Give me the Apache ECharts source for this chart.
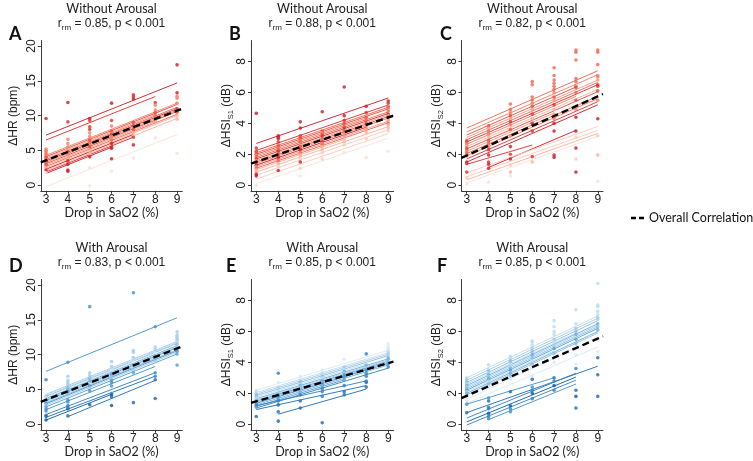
<!DOCTYPE html>
<html><head><meta charset="utf-8">
<script src="https://cdn.jsdelivr.net/npm/echarts@6/dist/echarts.min.js"></script>
<style>html,body{margin:0;padding:0;background:#fff}#c{width:753px;height:461px}</style>
</head><body><div id="c"></div>
<script>
// ---------------- DATA ----------------
const xTicks = [3, 4, 5, 6, 7, 8, 9];
const hrTicks = [0, 5, 10, 15, 20];
const hsiTicks = [0, 2, 4, 6, 8];
const rowTitles = ['Without Arousal', 'With Arousal'];
const letters = ['A', 'B', 'C', 'D', 'E', 'F'];
const rValues = ['0.85', '0.88', '0.82', '0.83', '0.85', '0.85'];
const pText = 'p < 0.001';
const xName = 'Drop in SaO2 (%)';
const legendText = 'Overall Correlation';

// subject regression lines: [xStart, yStart, xEnd, yEnd]
const aLines = [[3,7.2,9,14.7],[3,6.5,8,12.75],[3,4.3,9,11.8],[3,4.1,9,11.6],[3,3.9,8,10.15],[3,3.7,9,11.2],[3,3.5,9,11.0],[3,3.3,9,10.8],[3,3.1,9,10.6],[3,2.9,8,9.15],[3,2.7,9,10.2],[3,2.5,9,10.0],[3,2.3,7,7.3],[3,2.1,9,9.6],[3,1.9,7,6.9],[3,1.7,6,5.45],[3,-0.2,9,7.3]];
const bLines = [[3,2.7,9,5.64],[3,2.25,9,5.19],[3,2.1,9,5.04],[3,2.0,9,4.94],[3,1.9,8,4.35],[3,1.8,9,4.74],[3,1.7,9,4.64],[3,1.6,9,4.54],[3,1.5,9,4.44],[3,1.4,9,4.34],[3,1.3,8,3.75],[3,1.2,9,4.14],[3,1.1,9,4.04],[3,1.0,7,2.96],[3,0.85,9,3.79],[3,0.65,9,3.59],[3,0.4,9,3.34],[3,0.1,9,3.04]];
const cLines = [[3,3.7,9,7.4],[3,3.45,9,7.15],[3,3.25,8,6.35],[3,3.1,9,6.8],[3,2.95,9,6.65],[3,2.8,9,6.5],[3,2.65,8,5.75],[3,2.5,9,6.2],[3,2.35,9,6.05],[3,2.2,7,4.68],[3,2.05,9,5.75],[3,1.9,9,5.6],[3,1.7,9,5.4],[3,1.5,9,5.2],[3,1.35,6,2.6],[4,1.15,8,3.55],[3,0.8,9,3.8],[3,0.55,9,3.55],[3,0.35,9,3.35],[3,0.15,9,3.15]];
const dLines = [[3,7.6,9,15.3],[3,4.3,9,11.9],[3,4.15,9,11.75],[3,4.0,9,11.6],[3,3.85,8,10.2],[3,3.7,9,11.3],[3,3.55,9,11.15],[3,3.4,9,11.0],[3,3.25,8,9.6],[3,3.1,9,10.7],[3,2.95,9,10.55],[3,2.75,9,10.35],[3,2.5,9,10.1],[3,2.1,8,8.3],[3,1.4,8,7.4],[3,1.0,8,6.9],[4,1.1,8,6.3],[3,0.6,6,4.3]];
const eLines = [[3,2.2,9,4.78],[3,2.05,9,4.63],[3,1.95,9,4.53],[3,1.85,9,4.43],[3,1.75,8,3.9],[3,1.65,9,4.23],[3,1.58,9,4.16],[3,1.5,9,4.08],[3,1.42,9,4.0],[3,1.35,9,3.93],[3,1.25,9,3.83],[3,1.15,7,2.87],[3,1.05,9,3.63],[3,1.2,8,2.8],[3,0.95,8,2.5],[4,0.65,8,2.27]];
const fLines = [[3,3.0,9,7.0],[3,2.85,9,6.85],[3,2.7,9,6.7],[3,2.6,8,5.9],[3,2.5,9,6.5],[3,2.4,9,6.4],[3,2.3,9,6.3],[3,2.2,9,6.2],[3,2.1,7,4.75],[3,2.0,9,6.0],[3,1.9,9,5.9],[3,1.6,9,5.6],[3,1.35,9,5.0],[3,1.3,7,3.0],[3,0.75,9,3.75],[3,0.4,8,3.3],[3,0.15,8,3.05],[3,-0.05,8,2.85],[4,0.3,8,2.6]];

// overall correlation (dashed) line: [x0, y0, x1, y1]
const aOverall = [2.76, 3.3, 9.24, 11.0];
const bOverall = [2.76, 1.4, 9.24, 4.5];
const cOverall = [2.76, 1.77, 9.24, 5.9];
const dOverall = [2.76, 3.2, 9.24, 11.2];
const eOverall = [2.76, 1.38, 9.24, 4.05];
const fOverall = [2.76, 1.69, 9.24, 5.69];

// observations: [x, y] or [x, y, subject]
const aPoints = [[3,9.6,0],[3,5.2],[3,5.0],[3,4.8],[3,4.6],[3,4.4],[3,4.2],[3,4.0],[3,3.8],[3,3.6],[3,3.4],[3,3.2],[3,3.0],[3,2.8],[3,2.5],[3,2.2],[3,1.8,16],
 [4,11.9,0],[4,9.1,1],[4,6.6],[4,6.0],[4,5.5],[4,5.2],[4,4.8],[4,4.5],[4,4.2],[4,3.8],[4,3.5],[4,3.0],[4,2.2,12],[4,2.0,15],
 [5,9.6,0],[5,9.3,1],[5,8.4],[5,8.0],[5,7.5],[5,7.0],[5,6.5],[5,6.2],[5,5.8],[5,5.5],[5,5.0],[5,4.5],[5,4.1],[5,2.5,16],[5,-0.1,16],
 [6,11.8,0],[6,9.3,1],[6,8.5],[6,7.8],[6,7.3],[6,7.0],[6,6.5],[6,6.0],[6,5.5],[6,5.3],[6,3.8,15],[6,2.0,16],
 [7,13.0,1],[7,12.7,1],[7,12.4,0],[7,9.0],[7,8.5],[7,8.0],[7,7.5],[7,6.9],[7,5.8,12],[7,3.9,16],
 [8,11.9],[8,11.5],[8,10.8],[8,10.4],[8,10.0],[8,9.5],[8,9.2],[8,6.8,16],
 [9,17.3,0],[9,13.3],[9,12.8],[9,12.5],[9,11.8],[9,11.0],[9,10.5],[9,10.0],[9,9.5],[9,4.6,16]];
const bPoints = [[3,4.65,0],[3,2.4],[3,2.2],[3,2.1],[3,2.0],[3,1.9],[3,1.8],[3,1.7],[3,1.6],[3,1.5],[3,1.4],[3,1.3],[3,1.2],[3,1.1],[3,1.0],[3,0.9],[3,0.8,13],[3,0.7,10],[3,0.6,10],[3,0.0,17],
 [4,3.2,0],[4,3.1,0],[4,3.0],[4,2.8],[4,2.6],[4,2.5],[4,2.4],[4,2.3],[4,2.2],[4,2.0],[4,1.9],[4,1.8],[4,1.6],[4,1.4],[4,1.2],[4,0.95,10],
 [5,4.1,0],[5,3.7,0],[5,3.2],[5,3.1],[5,3.0],[5,2.9],[5,2.8],[5,2.6],[5,2.5],[5,2.4],[5,2.3],[5,2.1],[5,2.0],[5,1.9],[5,1.7],[5,1.5,10],[5,1.1,16],[5,0.6,17],
 [6,4.75,0],[6,3.5],[6,3.4],[6,3.3],[6,3.2],[6,3.0],[6,2.9],[6,2.8],[6,2.7],[6,2.6],[6,2.5],[6,2.3],[6,2.1],[6,1.7,16],
 [7,6.35,0],[7,4.5],[7,4.2],[7,4.0],[7,3.8],[7,3.7],[7,3.5],[7,3.4],[7,3.2],[7,3.0],[7,2.8],[7,2.6,15],[7,2.1,17],
 [8,5.1,0],[8,4.7],[8,4.4],[8,4.2],[8,4.0],[8,3.8],[8,3.6],[8,3.4],[8,3.0],[8,1.8,17],
 [9,5.45],[9,5.3],[9,5.1],[9,5.0],[9,4.8],[9,4.6],[9,4.5],[9,4.4],[9,4.2],[9,4.0],[9,3.9],[9,3.7],[9,3.5],[9,2.2,17]];
const cPoints = [[3,2.9],[3,2.8],[3,2.7],[3,2.6],[3,2.5],[3,2.4],[3,2.3],[3,2.2],[3,2.1],[3,2.0],[3,1.9],[3,1.5,13],[3,1.4,14],[3,0.85,14],[3,0.5,17],[3,0.1,19],
 [4,3.85],[4,3.7],[4,3.5],[4,3.3],[4,3.1],[4,2.9],[4,2.7],[4,2.5],[4,2.3],[4,1.95],[4,1.5,14],[4,1.35,15],[4,1.1,15],[4,0.2,19],
 [5,5.25],[5,4.9],[5,4.7],[5,4.5],[5,4.3],[5,4.1],[5,3.9],[5,3.6],[5,3.2],[5,2.5],[5,2.0,14],[5,1.7,15],[5,1.3,17],[5,0.85,18],[5,0.6,19],
 [6,6.7],[6,6.5],[6,5.7],[6,5.5],[6,5.3],[6,5.1],[6,4.9],[6,4.6],[6,4.3],[6,4.0,13],[6,3.5],[6,1.85,14],[6,1.5,18],
 [7,7.6],[7,7.1],[7,6.8],[7,6.6],[7,6.4],[7,6.2],[7,6.0],[7,5.7],[7,5.5],[7,5.2],[7,4.9],[7,4.6],[7,4.3],[7,4.0],[7,3.5],[7,1.95,15],[7,1.8,15],
 [8,8.75],[8,8.6],[8,8.1],[8,6.9],[8,6.7],[8,6.4],[8,6.3],[8,6.0],[8,5.5],[8,4.9],[8,4.4],[8,3.5,15],[8,3.1],[8,2.4,15],[8,1.7,17],[8,0.85,15],
 [9,8.75],[9,8.6],[9,7.8],[9,7.1],[9,7.0],[9,6.8],[9,6.5],[9,6.4],[9,6.1],[9,5.5],[9,4.3,13],[9,3.2,17],[9,1.95,18],[9,0.25,19]];
const dPoints = [[3,6.4,14],[3,4.0],[3,3.8],[3,3.6],[3,3.4],[3,3.2],[3,3.0],[3,2.8],[3,2.5],[3,2.2],[3,1.9],[3,1.3,14],[3,1.1,15],[3,0.6,17],
 [4,8.9,0],[4,6.9],[4,6.3],[4,6.0],[4,5.7],[4,5.3],[4,5.0],[4,4.7],[4,4.3],[4,3.5],[4,3.2],[4,2.7],[4,2.4],[4,2.2],[4,1.2,16],
 [5,16.9,0],[5,7.4],[5,7.0],[5,6.6],[5,6.2],[5,5.8],[5,5.5],[5,5.2],[5,4.8],[5,2.8,17],
 [6,9.0],[6,8.3],[6,7.7],[6,7.4],[6,7.2],[6,6.9],[6,6.6],[6,6.3],[6,6.0],[6,5.5],[6,4.4,13],[6,4.2,17],[6,3.9,16],[6,2.7,17],
 [7,18.9,0],[7,10.6],[7,10.3],[7,9.6],[7,9.2],[7,8.9],[7,8.5],[7,7.8],[7,7.4],[7,3.1,16],
 [8,14.0,0],[8,11.1],[8,10.7],[8,10.2],[8,9.8],[8,9.4],[8,9.0],[8,7.4,13],[8,6.9,14],[8,6.4,15],[8,3.7,16],
 [9,13.3],[9,12.8],[9,12.5],[9,12.2],[9,12.0],[9,11.8],[9,11.5],[9,11.2],[9,10.8],[9,10.5],[9,10.1],[9,8.5]];
const ePoints = [[3,2.2],[3,2.1],[3,2.0],[3,1.9],[3,1.8],[3,1.7],[3,1.6],[3,1.5],[3,1.4],[3,1.3],[3,1.2],[3,1.1],[3,0.5,15],
 [4,3.3,12],[4,2.7],[4,2.35],[4,2.2],[4,2.0],[4,1.9],[4,1.8],[4,1.6],[4,1.5],[4,1.25],[4,0.8,14],[4,0.2,15],
 [5,3.1],[5,3.0],[5,2.8],[5,2.7],[5,2.6],[5,2.5],[5,2.4],[5,2.3],[5,2.1],[5,1.9],[5,1.5,14],[5,1.05,15],
 [6,3.5],[6,3.3],[6,3.1],[6,3.0],[6,2.8],[6,2.7],[6,2.6],[6,2.5],[6,2.3],[6,2.1],[6,1.8,13],[6,0.1,15],
 [7,4.2],[7,3.7],[7,3.5],[7,3.4],[7,3.3],[7,3.2],[7,3.1],[7,2.9],[7,2.5,13],[7,2.1,14],[7,1.9,15],
 [8,4.55,12],[8,3.9],[8,3.8],[8,3.7],[8,3.5],[8,3.3],[8,3.1],[8,2.8,13],[8,2.7,14],[8,2.4,15],
 [9,5.2],[9,5.0],[9,4.9],[9,4.8],[9,4.7],[9,4.6],[9,4.5],[9,4.3],[9,4.2],[9,4.0],[9,3.9],[9,3.7]];
const fPoints = [[3,3.0],[3,2.9],[3,2.8],[3,2.7],[3,2.6],[3,2.5],[3,2.4],[3,2.3],[3,2.2],[3,2.1],[3,2.0],[3,1.9],[3,1.6],[3,1.5],[3,1.3,13],[3,0.75,14],
 [4,3.85],[4,3.5],[4,3.4],[4,3.3],[4,3.2],[4,3.1],[4,3.0],[4,2.9],[4,2.8],[4,2.6],[4,2.4],[4,1.7,13],[4,1.5,14],[4,1.1,15],[4,1.0,15],[4,0.7,16],[4,0.5,17],[4,0.35,18],
 [5,4.4],[5,4.3],[5,4.1],[5,4.0],[5,3.9],[5,3.7],[5,3.6],[5,3.5],[5,3.3],[5,3.1],[5,2.9],[5,2.1,14],[5,1.2,16],[5,1.0,17],[5,0.8,18],
 [6,5.4],[6,5.3],[6,5.1],[6,4.9],[6,4.7],[6,4.5],[6,4.3],[6,4.1],[6,3.9],[6,3.1],[6,2.9,14],[6,2.4,13],[6,2.2,15],[6,2.0,16],[6,1.65,17],
 [7,6.7,0],[7,6.3],[7,6.0],[7,5.8],[7,5.5],[7,5.3],[7,5.1],[7,4.9],[7,4.6],[7,4.3],[7,4.0],[7,3.0,14],[7,2.8,15],[7,2.5,16],[7,2.2,17],
 [8,7.4],[8,6.5],[8,6.2],[8,6.0],[8,5.8],[8,5.5],[8,5.2],[8,4.9],[8,4.5],[8,3.9],[8,3.6,15],[8,2.2,14],[8,1.8,16],[8,1.05,14],
 [9,9.1,0],[9,7.7],[9,7.6],[9,7.3],[9,7.1],[9,6.9],[9,6.8],[9,6.5],[9,6.3],[9,6.1],[9,5.5],[9,4.7],[9,4.3],[9,3.2,14],[9,1.8,14]];

// ---------------- STYLE ----------------
const reds = ['#b3101f','#cb1a24','#dc2f2a','#e84a3a','#f0634e','#f47c65','#f8977f','#fbb09b','#fcc9b8','#fee0d5'];
const blues = ['#0b5aa6','#1d6cb5','#2f7fc1','#4290cb','#579fd3','#6eaedb','#88bde2','#a2cce8','#bcdbef','#d9e9f6'];
const aShade = [1,2,5,3,6,4,2,5,3,6,4,7,1,7,2,1,9];
const bShade = [1,2,4,3,5,4,2,6,3,5,1,6,4,7,7,8,8,9];
const cShade = [4,5,3,6,4,2,5,7,3,6,4,5,2,1,2,1,8,8,7,9];
const dShade = [3,7,8,6,9,5,7,4,8,6,3,7,4,3,2,1,1,0];
const eShade = [9,8,7,6,8,5,7,4,6,3,5,4,2,2,1,1];
const fShade = [8,7,6,8,5,7,6,4,8,5,6,9,9,3,1,2,0,2,3];

const FT = 'Liberation Sans, Arial, sans-serif';
const FH = 'Lato, Liberation Sans, sans-serif';

const grids = [
  {left:40.8, top:40.5, width:141.5, height:150.3},
  {left:251,  top:40.5, width:142.5, height:150.3},
  {left:461.5,top:40.5, width:141.5, height:150.3},
  {left:40.8, top:279.5, width:141.5, height:150.3},
  {left:251,  top:279.5, width:142.5, height:150.3},
  {left:461.5,top:279.5, width:141.5, height:150.3}
];
const letterPos = [[9,25],[229,25],[440,25],[9,257],[226,257],[437,257]];
const yNameX = [14, 227, 437, 14, 227, 437];

const panels = [
  {lines:aLines, pts:aPoints, shade:aShade, overall:aOverall, pal:reds, hr:true,  yName:'ΔHR (bpm)'},
  {lines:bLines, pts:bPoints, shade:bShade, overall:bOverall, pal:reds, hr:false, yName:'{a|ΔHSI}{s|S1}{a| (dB)}'},
  {lines:cLines, pts:cPoints, shade:cShade, overall:cOverall, pal:reds, hr:false, yName:'{a|ΔHSI}{s|S2}{a| (dB)}'},
  {lines:dLines, pts:dPoints, shade:dShade, overall:dOverall, pal:blues, hr:true,  yName:'ΔHR (bpm)'},
  {lines:eLines, pts:ePoints, shade:eShade, overall:eOverall, pal:blues, hr:false, yName:'{a|ΔHSI}{s|S1}{a| (dB)}'},
  {lines:fLines, pts:fPoints, shade:fShade, overall:fOverall, pal:blues, hr:false, yName:'{a|ΔHSI}{s|S2}{a| (dB)}'}
];

function subjFor(p, lines) {
  if (p.length > 2) return p[2];
  let best = 0, bd = 1e9;
  lines.forEach((l, k) => {
    if (p[0] < l[0] - 0.01 || p[0] > l[2] + 0.01) return;
    const y = l[1] + (l[3] - l[1]) * (p[0] - l[0]) / (l[2] - l[0]);
    const d = Math.abs(y - p[1]);
    if (d < bd) { bd = d; best = k; }
  });
  return best;
}

const axisColor = '#3a3a3a';
const option = {animation:false, backgroundColor:'#fff', grid:[], xAxis:[], yAxis:[], series:[], title:[], graphic:[]};

panels.forEach((p, i) => {
  const g = grids[i];
  const row = i < 3 ? 0 : 1;
  option.grid.push(Object.assign({containLabel:false}, g));
  option.xAxis.push({
    type:'value', gridIndex:i, min:2.76, max:9.24, splitLine:{show:false},
    axisLine:{show:true, onZero:false, lineStyle:{color:axisColor, width:1}},
    axisTick:{show:true, length:3, customValues:xTicks, lineStyle:{color:axisColor}},
    axisLabel:{customValues:xTicks, margin:3, fontSize:12, color:'#222', fontFamily:FT},
    name:xName, nameLocation:'middle', nameGap:15,
    nameTextStyle:{fontSize:12.5, color:'#222', fontFamily:FH}
  });
  const yt = p.hr ? hrTicks : hsiTicks;
  option.yAxis.push({
    type:'value', gridIndex:i, min: p.hr ? -0.8 : -0.36, max: p.hr ? 20.8 : 9.36, splitLine:{show:false},
    axisLine:{show:true, onZero:false, lineStyle:{color:axisColor, width:1}},
    axisTick:{show:true, length:3, customValues:yt, lineStyle:{color:axisColor}},
    axisLabel:{customValues:yt, rotate:90, margin:3, fontSize:12, color:'#222', fontFamily:FT}
  });
  option.series.push({
    type:'lines', coordinateSystem:'cartesian2d', xAxisIndex:i, yAxisIndex:i, silent:true, z:2,
    lineStyle:{width:1, opacity:0.9},
    data: p.lines.map((l, k) => ({coords:[[l[0], l[1]], [l[2], l[3]]], lineStyle:{color:p.pal[p.shade[k]]}}))
  });
  option.series.push({
    type:'scatter', xAxisIndex:i, yAxisIndex:i, silent:true, z:3, symbol:'circle', symbolSize:3.6,
    data: p.pts.map(pt => ({value:[pt[0], pt[1]], itemStyle:{color:p.pal[p.shade[subjFor(pt, p.lines)]]}}))
  });
  const o = p.overall;
  option.series.push({
    type:'line', xAxisIndex:i, yAxisIndex:i, silent:true, z:5, symbol:'none', clip:false,
    data:[[o[0], o[1]], [o[2], o[3]]],
    lineStyle:{color:'#000', width:2.4, type:[7,4]}
  });
  const cx = g.left + g.width / 2;
  const ty = row === 0 ? 2 : 241;
  option.title.push({text:rowTitles[row], left:cx, top:ty, textAlign:'center', padding:0,
    textStyle:{fontSize:12.5, fontWeight:'normal', color:'#222', fontFamily:FH}});
  option.title.push({text:'{r|r}{s|rm}{r| = ' + rValues[i] + ', ' + pText + '}', left:cx, top:ty + 14, textAlign:'center', padding:0,
    textStyle:{fontWeight:'normal', rich:{r:{fontSize:12, fontWeight:'normal', color:'#222', fontFamily:FT, lineHeight:16},
                     s:{fontSize:8, fontWeight:'normal', color:'#222', fontFamily:FT, lineHeight:16, verticalAlign:'bottom'}}}});
  option.title.push({text:letters[i], left:letterPos[i][0], top:letterPos[i][1], padding:0,
    textStyle:{fontSize:18, fontWeight:'bold', color:'#111', fontFamily:FH}});
  // y-axis title
  option.graphic.push({type:'text', x:yNameX[i], y:g.top + g.height / 2, rotation:Math.PI / 2,
    style:{text:p.yName, align:'center', verticalAlign:'middle', fontSize:12, fontFamily:FT, fill:'#222',
      rich:{a:{fontSize:12, fontFamily:FT, fill:'#222', lineHeight:16},
            s:{fontSize:7.5, fontFamily:FT, fill:'#222', lineHeight:16, verticalAlign:'bottom'}}}});
});

option.graphic.push({type:'line', shape:{x1:631, y1:218, x2:646, y2:218}, style:{stroke:'#000', lineWidth:2.4, lineDash:[5,3]}});
option.graphic.push({type:'text', x:649, y:218, style:{text:legendText, fontSize:12.5, fontFamily:FH, fill:'#111', verticalAlign:'middle', align:'left'}});

const chart = echarts.init(document.getElementById('c'), null, {renderer:'canvas'});
chart.setOption(option);
</script></body></html>
